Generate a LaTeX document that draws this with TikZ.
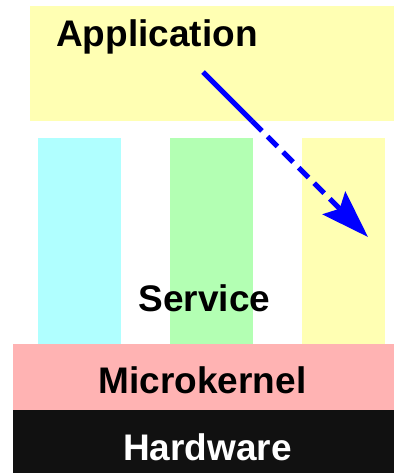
\documentclass[tikz,border=0pt]{standalone}
\usepackage{fontspec}
\setmainfont{Liberation Sans}
\usetikzlibrary{arrows.meta}
\definecolor{appyellow}{HTML}{FFFFB3}
\definecolor{srvcyan}{HTML}{B0FFFF}
\definecolor{srvgreen}{HTML}{B3FFB3}
\definecolor{kernelpink}{HTML}{FFB3B3}
\definecolor{hwblack}{HTML}{111111}
\tikzset{
  layer/.style={draw=none, inner sep=0pt, outer sep=0pt, anchor=north west},
  column/.style={layer, minimum width=83pt, minimum height=206pt},
  word/.style={font=\bfseries\fontsize{37}{40}\selectfont, inner sep=0pt, anchor=base},
  call/.style={draw=blue, line width=5pt}
}

\begin{document}
\begin{tikzpicture}[x=1pt, y=-1pt]
  \useasboundingbox (0,0) rectangle (394,473);
  % layers
  \node[layer, fill=appyellow, minimum width=364pt, minimum height=115pt] (app) at (30,6) {};
  \node[column, fill=srvcyan] (srva) at (38,138) {};
  \node[column, fill=srvgreen] (srvb) at (170,138) {};
  \node[column, fill=appyellow] (srvc) at (302,138) {};
  \node[layer, fill=kernelpink, minimum width=381pt, minimum height=66pt] (kernel) at (13,344) {};
  \node[layer, fill=hwblack, minimum width=381pt, minimum height=63pt] (hw) at (13,410) {};
  % labels
  \node[word] (apptext) at (157,46.5) {Application};
  \node[word] (srvtext) at (204.5,311.5) {Service};
  \node[word] (kerneltext) at (202.5,393) {Microkernel};
  \node[word, text=white] (hwtext) at (207.5,460) {Hardware};
  % call into the third service
  \coordinate (callstart) at (203,72);
  \coordinate (callexit) at (252,121);
  \coordinate (callend) at (368,237);
  \draw[call] (callstart) -- (callexit);
  \draw[call, dash pattern=on 14pt off 8pt, -{Stealth[length=48pt, width=32pt, inset=8pt]}] (callexit) -- (callend);
\end{tikzpicture}
\end{document}
